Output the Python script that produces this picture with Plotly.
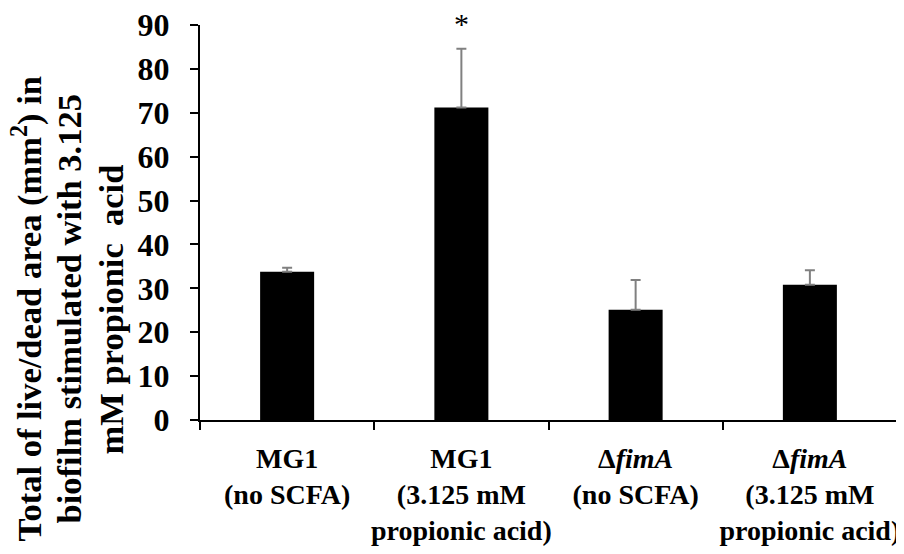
import plotly.graph_objects as go

categories = [
    "<b>MG1</b><br><b>(no SCFA)</b>",
    "<b>MG1</b><br><b>(3.125 mM</b><br><b>propionic acid)</b>",
    "<b>Δ<i>fimA</i></b><br><b>(no SCFA)</b>",
    "<b>Δ<i>fimA</i></b><br><b>(3.125 mM</b><br><b>propionic acid)</b>",
]
values = [33.8, 71.2, 25.1, 30.8]
errors = [0.9, 13.4, 6.8, 3.3]
y_ticks = [0, 10, 20, 30, 40, 50, 60, 70, 80, 90]
y_title_lines = [
    "<b>Total of live/dead area (mm<sup>2</sup>) in</b>",
    "<b>biofilm stimulated with 3.125</b>",
    "<b>mM propionic  acid</b>",
]

FONT = "Liberation Serif"

# page body has an 8px margin: shift the figure's own margins to compensate
OFF = 8
PLOT_W = 697

fig = go.Figure()
fig.add_trace(go.Bar(
    x=categories, y=values, width=0.31,
    marker=dict(color="black", line=dict(width=0)),
    error_y=dict(type="data", array=errors, symmetric=False, arrayminus=[0]*4,
                 color="#808080", thickness=2, width=5),
))

fig.add_annotation(x=categories[1], y=values[1] + errors[1], yref="y", xref="x",
                   text="*", showarrow=False, yshift=25,
                   font=dict(family=FONT, size=30, color="black"))

# y-axis title, one rotated line at a time
for line, cx in zip(y_title_lines, [27, 69, 111]):
    fig.add_annotation(xref="paper", yref="paper", x=(cx - 200) / PLOT_W, y=0.28,
                       xanchor="center", yanchor="middle",
                       text=line, textangle=-90, showarrow=False, align="center",
                       font=dict(family=FONT, size=34.5, color="black"))

fig.update_layout(
    width=904 - OFF, height=554 - OFF,
    margin=dict(l=200 - OFF, r=7, t=25 - OFF, b=134, autoexpand=False),
    paper_bgcolor="white", plot_bgcolor="white",
    showlegend=False,
    font=dict(family=FONT, color="black"),
)
fig.update_xaxes(
    type="category", tickson="boundaries", ticks="outside", ticklen=8, tickwidth=2,
    tickcolor="black", showline=True, linecolor="black", linewidth=2,
    tickfont=dict(family=FONT, size=28, color="black"), showgrid=False,
    ticklabelstandoff=12, automargin=False, tickangle=0, ticklabeloverflow="allow",
)
fig.update_yaxes(
    range=[0, 90], tickvals=y_ticks, ticks="outside", ticklen=8, tickwidth=2,
    tickcolor="black", showline=True, linecolor="black", linewidth=2,
    tickfont=dict(family=FONT, size=32, color="black", weight="bold"),
    showgrid=False, zeroline=False, ticklabelstandoff=14, automargin=False,
    ticklabeloverflow="allow",
)

fig.write_html("out.html")
